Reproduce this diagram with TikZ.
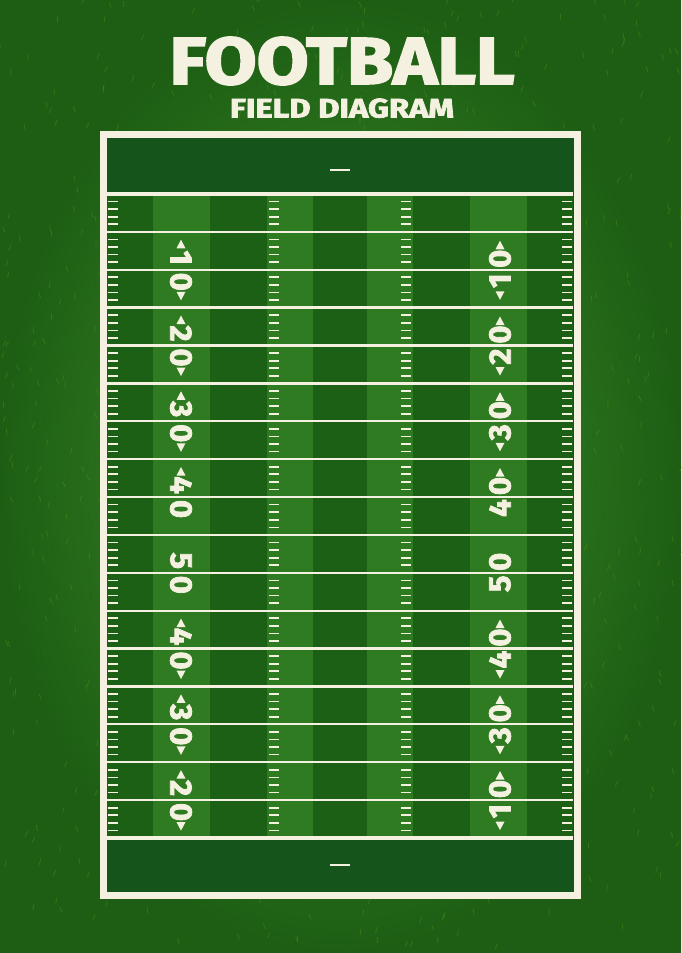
\documentclass[tikz,border=0pt]{standalone}
\usepackage{fontspec}
\setmainfont{Fira Sans}
\newfontfamily\heavyfont{Fira Sans}[BoldFeatures={FakeBold=2.5}]
\usepackage{graphicx}
\usetikzlibrary{positioning}

\definecolor{chalk}{HTML}{F4F1E1}
\definecolor{grasslight}{HTML}{41922A}
\definecolor{grassdark}{HTML}{1D5E14}
\definecolor{turfdark}{HTML}{1B6015}
\definecolor{turflight}{HTML}{2F7B21}
\definecolor{endzone}{HTML}{15541A}

\begin{document}
\begin{tikzpicture}[x=1pt, y=-1pt,
    heading/.style={inner sep=0pt, text=chalk},
    yardline/.style={draw=chalk, line width=2.3pt},
    goalline/.style={draw=chalk, line width=4pt},
    hashmark/.style={draw=chalk, line width=1.7pt},
    numlbl/.style={inner sep=0pt, text=chalk, font=\fontsize{31}{31}\selectfont\heavyfont\bfseries},
    tri/.style={fill=chalk},
    blade/.style={line width=0.8pt, opacity=0.25}]

\useasboundingbox (0,0) rectangle (681,953);

% Grass
\shade[inner color=grasslight, outer color=grassdark] (0,0) rectangle (681,953);
\pgfmathsetseed{7}
\foreach \i in {1,...,1500} {
  \pgfmathsetmacro\gx{rnd*681}
  \pgfmathsetmacro\gy{rnd*953}
  \pgfmathsetmacro\ga{60+rnd*60}
  \ifodd\i \def\gc{grassdark}\else\def\gc{grasslight!70!yellow}\fi
  \draw[blade, \gc] (\gx,\gy) -- ++(\ga:-6);
}

% Title
\node[heading] (title) at (342,61) {\resizebox{345pt}{47pt}{\heavyfont\bfseries FOOTBALL}};
\node[heading, below=13pt of title] (subtitle) {\resizebox{224pt}{19pt}{\heavyfont\bfseries FIELD DIAGRAM}};

% Field and end zones
\fill[endzone] (103,134) rectangle (577,895);
\foreach \xa/\xb/\c in {107/153/turfdark, 153/210/turflight, 210/267/turfdark,
    267/313/turflight, 313/367/turfdark, 367/413/turflight, 413/470/turfdark,
    470/527/turflight, 527/573/turfdark}
  \fill[\c] (\xa,194) rectangle (\xb,838);

% Yard lines
\foreach \k in {1,...,16}
  \draw[yardline] (107,{194+\k*37.88}) -- (573,{194+\k*37.88});
\draw[goalline] (107,194) -- (573,194);
\draw[goalline] (107,838) -- (573,838);

% Hash marks
\foreach \k in {0,...,16}
  \foreach \f in {1,...,4} {
    \pgfmathsetmacro\ty{194+\k*37.88+\f*7.576}
    \foreach \xa in {108,269,401,562}
      \draw[hashmark] (\xa,\ty) -- ++(10,0);
  }

% End zone marks
\draw[yardline] (330,170) -- (350,170);
\draw[yardline] (330,865) -- (350,865);

% Numbers, left side
\foreach \k/\d/\up/\dn in {2/1/1/1, 4/2/1/1, 6/3/1/1, 8/4/1/0, 10/5/0/0,
    12/4/1/1, 14/3/1/1, 16/2/1/1} {
  \pgfmathsetmacro\ly{194+\k*37.88}
  \node[numlbl, rotate=-90] (L\k a) at (181,\ly-12) {\d};
  \node[numlbl, rotate=-90] (L\k b) at (181,\ly+12) {0};
  \ifnum\up=1 \fill[tri] (181,\ly-30) -- (185.5,\ly-21.5) -- (176.5,\ly-21.5) -- cycle; \fi
  \ifnum\dn=1 \fill[tri] (181,\ly+30.5) -- (185.5,\ly+22) -- (176.5,\ly+22) -- cycle; \fi
}

% Numbers, right side
\foreach \k/\d/\up/\dn in {2/1/1/1, 4/2/1/1, 6/3/1/1, 8/4/1/0, 10/5/0/0,
    12/4/1/1, 14/3/1/1, 16/1/1/1} {
  \pgfmathsetmacro\ly{194+\k*37.88}
  \node[numlbl, rotate=90] (R\k a) at (500,\ly-11) {0};
  \node[numlbl, rotate=90] (R\k b) at (500,\ly+11) {\d};
  \ifnum\up=1 \fill[tri] (500,\ly-29) -- (504.5,\ly-20.5) -- (495.5,\ly-20.5) -- cycle; \fi
  \ifnum\dn=1 \fill[tri] (500,\ly+30) -- (504.5,\ly+21.5) -- (495.5,\ly+21.5) -- cycle; \fi
}

% Border
\draw[draw=chalk, line width=7pt] (103,134) rectangle (577,895);

\end{tikzpicture}
\end{document}
